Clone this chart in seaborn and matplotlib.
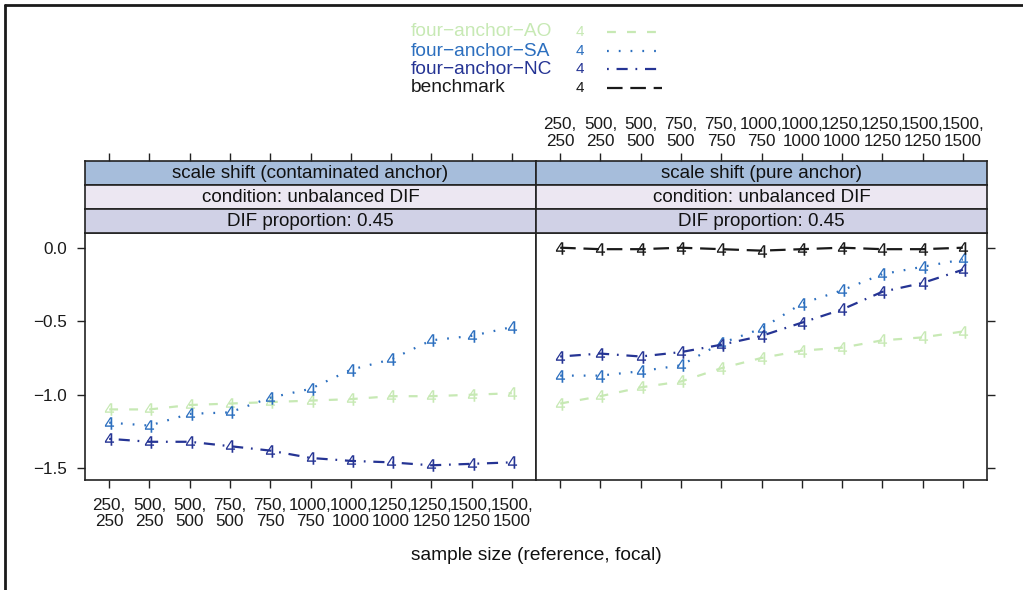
import numpy as np
import pandas as pd
import matplotlib.pyplot as plt
import seaborn as sns
from matplotlib.lines import Line2D

# sample size labels (reference, focal)
size_labels = ["250,\n250", "500,\n250", "500,\n500", "750,\n500", "750,\n750",
               "1000,\n750", "1000,\n1000", "1250,\n1000", "1250,\n1250",
               "1500,\n1250", "1500,\n1500"]

panels = ["scale shift (contaminated anchor)", "scale shift (pure anchor)"]
strip2 = "condition: unbalanced DIF"
strip3 = "DIF proportion: 0.45"

# values
contam_AO = [-1.10, -1.10, -1.07, -1.06, -1.05, -1.04, -1.03, -1.01, -1.01, -1.00, -0.99]
contam_SA = [-1.19, -1.21, -1.13, -1.12, -1.02, -0.96, -0.83, -0.76, -0.63, -0.60, -0.54]
contam_NC = [-1.30, -1.32, -1.32, -1.35, -1.38, -1.43, -1.45, -1.46, -1.48, -1.47, -1.46]

pure_AO = [-1.06, -1.01, -0.95, -0.91, -0.82, -0.75, -0.70, -0.68, -0.63, -0.61, -0.57]
pure_SA = [-0.87, -0.87, -0.84, -0.80, -0.65, -0.55, -0.38, -0.29, -0.18, -0.13, -0.08]
pure_NC = [-0.74, -0.72, -0.74, -0.71, -0.66, -0.60, -0.51, -0.42, -0.30, -0.24, -0.15]
pure_bench = [0.00, -0.01, -0.01, 0.00, -0.01, -0.02, -0.01, 0.00, -0.01, -0.01, 0.00]

methods = ["four\u2212anchor\u2212AO", "four\u2212anchor\u2212SA", "four\u2212anchor\u2212NC", "benchmark"]
colors = {"four\u2212anchor\u2212AO": "#c7e9b4", "four\u2212anchor\u2212SA": "#2c6fbf",
          "four\u2212anchor\u2212NC": "#253494", "benchmark": "#1a1a1a"}
styles = {"four\u2212anchor\u2212AO": (0, (4, 5)), "four\u2212anchor\u2212SA": (0, (0.8, 4.5)),
          "four\u2212anchor\u2212NC": (0, (0.8, 3.5, 5, 3.5)), "benchmark": (0, (7, 3.5))}

series = {
    panels[0]: {methods[0]: contam_AO, methods[1]: contam_SA, methods[2]: contam_NC},
    panels[1]: {methods[0]: pure_AO, methods[1]: pure_SA, methods[2]: pure_NC, methods[3]: pure_bench},
}

sns.set_theme(style="white")
plt.rcParams['font.family'] = ['Liberation Sans', 'DejaVu Sans']
plt.rcParams['axes.unicode_minus'] = True

W, H = 1023, 590
fig = plt.figure(figsize=(W / 100, H / 100), dpi=100)

def box(x0, y0, x1, y1):
    return [x0 / W, 1 - y1 / H, (x1 - x0) / W, (y1 - y0) / H]

xpos = np.arange(1, 12)
xlim = (0.4, 11.6)
ylim = (-1.58, 0.10)
yticks = [0.0, -0.5, -1.0, -1.5]
strip_cols = ["#a6bddb", "#ece7f2", "#d0d1e6"]
panel_x = [(85, 536), (536, 987)]
tick_kw = dict(length=6, width=1, color="#222222", direction="out")
tick_fs = 12.3

for i, name in enumerate(panels):
    x0, x1 = panel_x[i]
    ax = fig.add_axes(box(x0, 233, x1, 480))
    for m, vals in series[name].items():
        sns.lineplot(x=xpos, y=vals, ax=ax, color=colors[m], linestyle=styles[m],
                     linewidth=1.6, marker="$4$", markersize=9, markeredgewidth=0,
                     markerfacecolor=colors[m])
    ax.set_xlim(*xlim)
    ax.set_ylim(*ylim)
    ax.set_xticks(xpos)
    ax.set_yticks(yticks)
    ax.set_xlabel("")
    ax.set_ylabel("")
    for s in ax.spines.values():
        s.set_color("#222222")
        s.set_linewidth(1.2)
    ax.tick_params(axis="both", labelsize=tick_fs, labelcolor="#1a1a1a", **tick_kw)
    ax.tick_params(axis="x", pad=7)
    ax.tick_params(axis="y", pad=7)
    if i == 0:
        ax.set_xticklabels(size_labels, linespacing=1.1)
        ax.tick_params(axis="y", left=True, right=False, labelleft=True, labelright=False)
        ax.set_yticklabels(["0.0", "\u22120.5", "\u22121.0", "\u22121.5"])
    else:
        ax.set_xticklabels([])
        ax.tick_params(axis="y", left=False, right=True, labelleft=False, labelright=False)
    ax.tick_params(axis="x", bottom=True, top=False)

    # strips
    rows = [(161, 185, name), (185, 209, strip2), (209, 233, strip3)]
    for j, (ya, yb, txt) in enumerate(rows):
        sa = fig.add_axes(box(x0, ya, x1, yb))
        sa.set_facecolor(strip_cols[j])
        sa.set_xlim(*xlim)
        sa.set_yticks([])
        sa.text(0.5, 0.48, txt, ha="center", va="center", fontsize=13.5,
                transform=sa.transAxes, color="#111111")
        for s in sa.spines.values():
            s.set_color("#222222")
            s.set_linewidth(1.2)
        if j == 0:
            sa.set_xticks(xpos)
            sa.tick_params(axis="x", bottom=False, top=True, labelbottom=False,
                           labeltop=(i == 1), labelsize=tick_fs, pad=3,
                           labelcolor="#1a1a1a", **tick_kw)
            if i == 1:
                sa.set_xticklabels(size_labels, linespacing=1.1)
        else:
            sa.set_xticks([])

fig.text(536 / W, 1 - 555 / H, "sample size (reference, focal)", ha="center",
         va="center", fontsize=13.8, color="#111111")

# legend (key drawn at top)
leg_y = [32, 51, 69, 88]
for m, yy in zip(methods, leg_y):
    c = colors[m]
    fig.text(411 / W, 1 - yy / H, m, ha="left", va="center", fontsize=13.8, color=c)
    fig.text(580 / W, 1 - yy / H, "4", ha="center", va="center", fontsize=11, color=c)
    fig.add_artist(Line2D([607 / W, 662 / W], [1 - yy / H, 1 - yy / H], color=c,
                          linestyle=styles[m], linewidth=1.6, transform=fig.transFigure))

# outer frame lines (top and left)
fig.add_artist(Line2D([5 / W, 1], [1 - 5 / H, 1 - 5 / H], color="#1a1a1a", linewidth=2,
                      transform=fig.transFigure))
fig.add_artist(Line2D([5 / W, 5 / W], [0, 1 - 5 / H], color="#1a1a1a", linewidth=2,
                      transform=fig.transFigure))

fig.savefig("out.png", dpi=100)
